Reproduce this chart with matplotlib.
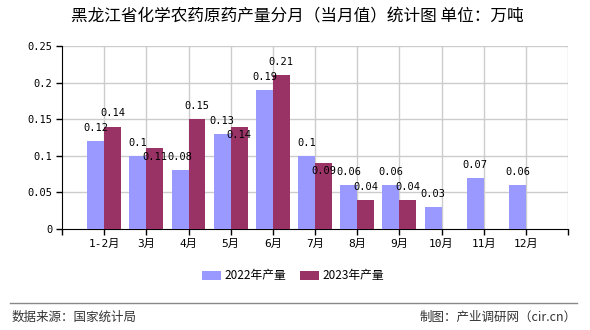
import matplotlib
matplotlib.use('Agg')
import matplotlib.pyplot as plt
import numpy as np

# 数据
months = ['1-2月', '3月', '4月', '5月', '6月', '7月', '8月', '9月', '10月', '11月', '12月']
prod_2022 = [0.12, 0.1, 0.08, 0.13, 0.19, 0.1, 0.06, 0.06, 0.03, 0.07, 0.06]
prod_2023 = [0.14, 0.11, 0.15, 0.14, 0.21, 0.09, 0.04, 0.04, None, None, None]

title = '黑龙江省化学农药原药产量分月（当月值）统计图 单位：万吨'
source = '数据来源：国家统计局'
maker = '制图：产业调研网（cir.cn）'

c2022 = '#9999FF'
c2023 = '#993366'
cjk = ['Noto Sans CJK SC', 'DejaVu Sans']
mono = ['DejaVu Sans Mono', 'Noto Sans CJK SC']

fig = plt.figure(figsize=(5.9, 3.3), dpi=100)
ax = fig.add_axes([62 / 590, 1 - 229 / 330, 506 / 590, 183 / 330])

x = np.arange(len(months))
w = 0.4
v22 = np.array(prod_2022, dtype=float)
v23 = np.array([np.nan if v is None else v for v in prod_2023])

ax.bar(x - w / 2, v22, width=w, color=c2022, zorder=3, label='2022年产量')
ax.bar(x + w / 2, np.nan_to_num(v23), width=w, color=c2023, zorder=3, label='2023年产量')

# 数值标签（部分2023标签被挤到柱内）
shift_down = {1, 3, 5}
for i, v in enumerate(v22):
    ax.annotate(f'{v:g}', (x[i] - w / 2, v), xytext=(0, 9.5), textcoords='offset points',
                ha='center', va='center', fontsize=7.5, family=mono, zorder=5)
for i, v in enumerate(v23):
    if np.isnan(v):
        continue
    dy = -6 if i in shift_down else 9.5
    ax.annotate(f'{v:g}', (x[i] + w / 2, v), xytext=(0, dy), textcoords='offset points',
                ha='center', va='center', fontsize=7.5, family=mono, zorder=5)

ax.set_xlim(-1, len(months))
ax.set_ylim(0, 0.25)
ax.set_yticks(np.arange(0, 0.26, 0.05))
ax.set_yticklabels(['0', '0.05', '0.1', '0.15', '0.2', '0.25'], family=mono, fontsize=7.5)
ax.set_xticks(np.arange(-1, len(months) + 1))
ax.set_xticklabels([''] + months + [''], family=mono, fontsize=8)
ax.tick_params(axis='both', length=4, width=1, color='black', pad=3)

# 网格
for xi in list(x) + [len(months)]:
    ax.axvline(xi, color='#CCCCCC', lw=1, zorder=1)
for yi in np.arange(0.05, 0.26, 0.05):
    ax.axhline(yi, color='#CCCCCC', lw=1, zorder=1)

for s in ['top', 'right']:
    ax.spines[s].set_visible(False)
ax.spines['left'].set_color('black')
ax.spines['bottom'].set_color('black')

fig.text(297 / 590, 1 - 17 / 330, title, ha='center', va='center', fontsize=12, family=cjk)

leg = fig.legend(loc='center', bbox_to_anchor=(293 / 590, 1 - 276 / 330), ncol=2, frameon=False,
                 prop={'family': cjk, 'size': 8.5}, handlelength=1.6, handleheight=0.9,
                 columnspacing=1.2, handletextpad=0.3)

fig.add_artist(plt.Line2D([10 / 590, 577 / 590], [1 - 303 / 330] * 2, color='#888888', lw=1))
fig.text(12 / 590, 1 - 317 / 330, source, ha='left', va='center', fontsize=9, family=cjk, color='#333333')
fig.text(577 / 590, 1 - 317 / 330, maker, ha='right', va='center', fontsize=9, family=cjk, color='#333333')

fig.savefig('out.png', dpi=100)
plt.close()
